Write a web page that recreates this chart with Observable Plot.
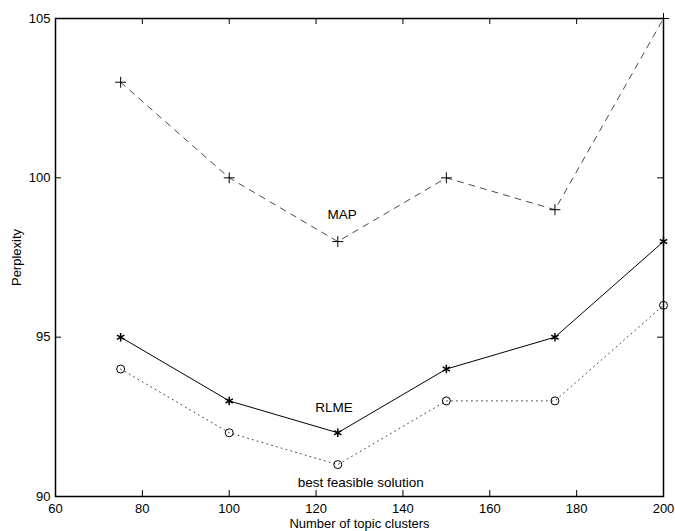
<!DOCTYPE html>
<html>
<head>
<meta charset="utf-8">
<script src="https://cdn.jsdelivr.net/npm/d3@7"></script>
<script src="https://cdn.jsdelivr.net/npm/@observablehq/plot@0.6"></script>
<style>
  html, body { margin: 0; padding: 0; background: #fff; }
  #chart svg { display: block; }
</style>
</head>
<body>
<div id="chart"></div>
<script>
// ---- data ----
const clusters = [75, 100, 125, 150, 175, 200];
const mapValues = [103, 100, 98, 100, 99, 105];
const rlmeValues = [95, 93, 92, 94, 95, 98];
const bestValues = [94, 92, 91, 93, 93, 96];
const xTicks = [60, 80, 100, 120, 140, 160, 180, 200];
const yTicks = [90, 95, 100, 105];
const seriesNames = ["MAP", "RLME", "best feasible solution"];
const labelX = [126, 124.1, 130.3];
const labelY = [98.85, 92.78, 90.43];

const rows = (vals) => clusters.map((c, i) => ({x: c, y: vals[i]}));
const mapData = rows(mapValues);
const rlmeData = rows(rlmeValues);
const bestData = rows(bestValues);
const labels = seriesNames.map((t, i) => ({text: t, x: labelX[i], y: labelY[i]}));

const font = "'Liberation Sans', Arial, Helvetica, sans-serif";
const W = 675, H = 531, mL = 55, mT = 18, mR = 12, mB = 35;
const tickLen = 6;
const frameW = W - mL - mR, frameH = H - mT - mB;

const chart = Plot.plot({
  width: W,
  height: H,
  marginLeft: mL,
  marginTop: mT,
  marginRight: mR,
  marginBottom: mB,
  style: {fontFamily: font, fontSize: "13px", background: "#fff", color: "#000"},
  x: {domain: [60, 200]},
  y: {domain: [90, 105]},
  marks: [
    // tick labels + axis titles
    Plot.axisX(xTicks, {anchor: "bottom", tickSize: 0, tickPadding: 7, fontSize: 13,
      label: "Number of topic clusters", labelAnchor: "center", labelArrow: "none", labelOffset: 31}),
    Plot.axisY(yTicks, {anchor: "left", tickSize: 0, tickPadding: 5, fontSize: 13,
      label: "Perplexity", labelAnchor: "center", labelArrow: "none", labelOffset: 44}),
    // inward ticks on all four sides
    Plot.tickX(xTicks, {x: d => d, insetTop: frameH - tickLen, stroke: "#000"}),
    Plot.tickX(xTicks, {x: d => d, insetBottom: frameH - tickLen, stroke: "#000"}),
    Plot.tickY(yTicks, {y: d => d, insetRight: frameW - tickLen, stroke: "#000"}),
    Plot.tickY(yTicks, {y: d => d, insetLeft: frameW - tickLen, stroke: "#000"}),
    Plot.frame({stroke: "#000", strokeWidth: 1.5}),
    // series
    Plot.line(mapData, {x: "x", y: "y", stroke: "#333", strokeWidth: 0.9, strokeDasharray: "6,6"}),
    Plot.line(rlmeData, {x: "x", y: "y", stroke: "#000", strokeWidth: 1}),
    Plot.line(bestData, {x: "x", y: "y", stroke: "#444", strokeWidth: 1, strokeDasharray: "1,4"}),
    Plot.dot(mapData, {x: "x", y: "y", symbol: "plus", r: 3.6, stroke: "#000", strokeWidth: 1}),
    Plot.dot(rlmeData, {x: "x", y: "y", symbol: "asterisk", r: 4, stroke: "#000", strokeWidth: 1.5}),
    Plot.dot(bestData, {x: "x", y: "y", symbol: "circle", r: 4, stroke: "#000", strokeWidth: 1, fill: "none"}),
    // series labels
    Plot.text(labels, {x: "x", y: "y", text: "text", fontSize: 13.5, fill: "#000", textAnchor: "middle"})
  ]
});
document.getElementById("chart").appendChild(chart);
</script>
</body>
</html>
